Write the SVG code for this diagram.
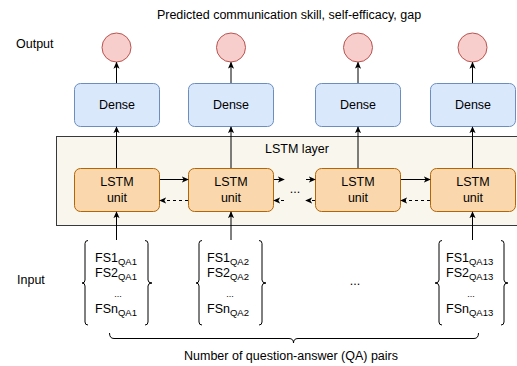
<svg xmlns="http://www.w3.org/2000/svg" width="517" height="366" viewBox="0 0 517 366">
<defs>
<style>
text{font-family:"Liberation Sans",Arial,sans-serif;font-size:12.5px;fill:#000}
.c{text-anchor:middle}
.out{fill:#f8cecc;stroke:#b85450;stroke-width:1}
.dense{fill:#dae8fc;stroke:#6c8ebf;stroke-width:1}
.lstm{fill:#fad7ac;stroke:#b46504;stroke-width:1}
.layer{fill:#f9f7ed;stroke:#36393d;stroke-width:1}
.e{stroke:#000;stroke-width:1;fill:none;marker-end:url(#ah)}
.d{stroke-dasharray:3 3}
.br{stroke:#000;stroke-width:1;fill:none}
.sub{font-size:9.5px}
.sm{font-size:9px}
</style>
<marker id="ah" viewBox="0 0 8 8" refX="7" refY="4" markerWidth="7" markerHeight="7" markerUnits="userSpaceOnUse" orient="auto">
<path d="M0,0.5 L8,4 L0,7.5 L2,4 z" fill="#000"/>
</marker>
</defs>

<text class="c" x="289" y="19">Predicted communication skill, self-efficacy, gap</text>
<text x="16" y="48">Output</text>
<text x="17" y="284">Input</text>

<g id="layer">
<rect class="layer" x="56.5" y="136.5" width="461" height="89"/>
<text class="c" x="297" y="153">LSTM layer</text>
</g>

<g id="out1"><circle class="out" cx="116.5" cy="47.5" r="14.5"/></g>
<g id="out2"><circle class="out" cx="231" cy="47.5" r="14.5"/></g>
<g id="out3"><circle class="out" cx="358" cy="47.5" r="14.5"/></g>
<g id="out4"><circle class="out" cx="472.5" cy="47.5" r="14.5"/></g>

<g id="dense1"><rect class="dense" x="74.5" y="83.5" width="85" height="43" rx="6"/><text class="c" x="117" y="109">Dense</text></g>
<g id="dense2"><rect class="dense" x="188.5" y="83.5" width="85" height="43" rx="6"/><text class="c" x="231" y="109">Dense</text></g>
<g id="dense3"><rect class="dense" x="315.5" y="83.5" width="85" height="43" rx="6"/><text class="c" x="358" y="109">Dense</text></g>
<g id="dense4"><rect class="dense" x="430.5" y="83.5" width="85" height="43" rx="6"/><text class="c" x="473" y="109">Dense</text></g>

<g id="lstm1"><rect class="lstm" x="74.5" y="168.5" width="85" height="43" rx="6"/><text class="c" x="117" y="186">LSTM</text><text class="c" x="117" y="202">unit</text></g>
<g id="lstm2"><rect class="lstm" x="188.5" y="168.5" width="85" height="43" rx="6"/><text class="c" x="231" y="186">LSTM</text><text class="c" x="231" y="202">unit</text></g>
<g id="lstm3"><rect class="lstm" x="315.5" y="168.5" width="85" height="43" rx="6"/><text class="c" x="358" y="186">LSTM</text><text class="c" x="358" y="202">unit</text></g>
<g id="lstm4"><rect class="lstm" x="430.5" y="168.5" width="85" height="43" rx="6"/><text class="c" x="473" y="186">LSTM</text><text class="c" x="473" y="202">unit</text></g>

<g id="dots-lstm"><text class="c" x="295" y="193">...</text></g>

<g id="in1">
<path class="br" d="M88,240.5 Q85,240.5 85,243.5 L85,280 Q85,283 82,283 Q85,283 85,286 L85,322 Q85,325 88,325"/>
<path class="br" d="M145,240.5 Q148,240.5 148,243.5 L148,280 Q148,283 152,283 Q148,283 148,286 L148,322 Q148,325 145,325"/>
<text x="95" y="262">FS1<tspan class="sub" dy="3">QA1</tspan></text>
<text x="95" y="277">FS2<tspan class="sub" dy="3">QA1</tspan></text>
<text class="c sm" x="118" y="297">...</text>
<text x="95" y="313">FSn<tspan class="sub" dy="3">QA1</tspan></text>
</g>
<g id="in2">
<path class="br" d="M202,240.5 Q199,240.5 199,243.5 L199,280 Q199,283 196,283 Q199,283 199,286 L199,322 Q199,325 202,325"/>
<path class="br" d="M259,240.5 Q262,240.5 262,243.5 L262,280 Q262,283 266,283 Q262,283 262,286 L262,322 Q262,325 259,325"/>
<text x="207" y="262">FS1<tspan class="sub" dy="3">QA2</tspan></text>
<text x="207" y="277">FS2<tspan class="sub" dy="3">QA2</tspan></text>
<text class="c sm" x="230" y="297">...</text>
<text x="207" y="313">FSn<tspan class="sub" dy="3">QA2</tspan></text>
</g>
<g id="dots-in"><text class="c" x="355" y="285">...</text></g>
<g id="in4">
<path class="br" d="M442,240.5 Q439,240.5 439,243.5 L439,280 Q439,283 435,283 Q439,283 439,286 L439,322 Q439,325 442,325"/>
<path class="br" d="M501,240.5 Q504,240.5 504,243.5 L504,280 Q504,283 508,283 Q504,283 504,286 L504,322 Q504,325 501,325"/>
<text x="446" y="262">FS1<tspan class="sub" dy="3">QA13</tspan></text>
<text x="446" y="277">FS2<tspan class="sub" dy="3">QA13</tspan></text>
<text class="c sm" x="471" y="297">...</text>
<text x="446" y="313">FSn<tspan class="sub" dy="3">QA13</tspan></text>
</g>

<g id="pairs">
<path class="br" d="M109.5,333 Q109.5,338.5 114,338.5 L289,338.5 Q293.5,338.5 293.5,343 Q293.5,338.5 298,338.5 L474,338.5 Q478.5,338.5 478.5,333"/>
<text class="c" x="291" y="360">Number of question-answer (QA) pairs</text>
</g>

<g id="connectors">
<path class="e" d="M116.5,83 L116.5,62.5"/>
<path class="e" d="M231,83 L231,62.5"/>
<path class="e" d="M358,83 L358,62.5"/>
<path class="e" d="M472.5,83 L472.5,62.5"/>
<path class="e" d="M116.5,168 L116.5,127"/>
<path class="e" d="M231,168 L231,127"/>
<path class="e" d="M358,168 L358,127"/>
<path class="e" d="M472.5,168 L472.5,127"/>
<path class="e" d="M116.5,240 L116.5,212"/>
<path class="e" d="M231,240 L231,212"/>
<path class="e" d="M472.5,240 L472.5,212"/>
<path class="e" d="M160,179.5 L188,179.5"/>
<path class="e d" d="M188,200.5 L160,200.5"/>
<path class="e" d="M274,179.5 L284,179.5"/>
<path class="e d" d="M284,200.5 L274,200.5"/>
<path class="e" d="M306,179.5 L315,179.5"/>
<path class="e d" d="M315,200.5 L306,200.5"/>
<path class="e" d="M401,179.5 L430,179.5"/>
<path class="e d" d="M430,200.5 L401,200.5"/>
</g>
</svg>
